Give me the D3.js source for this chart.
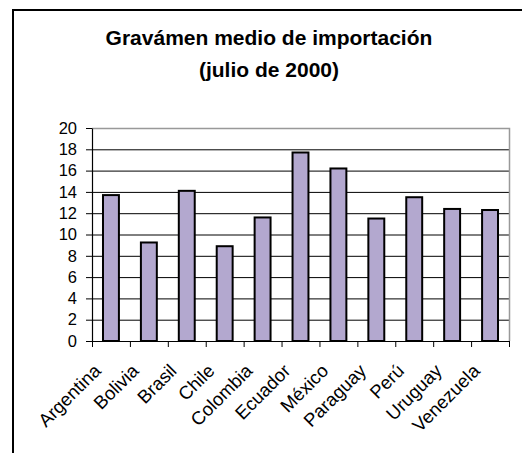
<!DOCTYPE html>
<html>
<head>
<meta charset="utf-8">
<script src="https://cdn.jsdelivr.net/npm/d3@7"></script>
<style>
  body { margin: 0; background: #fff; }
  svg { display: block; font-family: "Liberation Sans", Arial, sans-serif; }
</style>
</head>
<body>
<svg width="522" height="453"></svg>
<script>
const paises = ["Argentina", "Bolivia", "Brasil", "Chile", "Colombia", "Ecuador",
    "México", "Paraguay", "Perú", "Uruguay", "Venezuela"];
const gravamen = [13.7, 9.25, 14.1, 8.9, 11.6, 17.7, 16.2, 11.5, 13.5, 12.4, 12.3];
const yTicks = [0, 2, 4, 6, 8, 10, 12, 14, 16, 18, 20];
const titulo = ["Gravámen medio de importación", "(julio de 2000)"];

const svg = d3.select("svg");

// marco del gráfico (solo se ven el borde superior e izquierdo)
svg.append("path")
    .attr("d", "M13,460V10H530")
    .attr("fill", "none")
    .attr("stroke", "#000")
    .attr("stroke-width", 2);

svg.selectAll("text.titulo")
    .data(titulo)
    .enter()
    .append("text")
    .attr("class", "titulo")
    .attr("x", 269)
    .attr("y", (d, i) => 45 + i * 31.5)
    .attr("text-anchor", "middle")
    .attr("font-size", 21)
    .attr("font-weight", "bold")
    .text(d => d);

const pLeft = 92, pRight = 509, pTop = 128, pBottom = 341;

const xBand = d3.scaleBand().domain(paises).range([pLeft, pRight]);
const x = d3.scaleBand().domain(paises).range([pLeft, pRight])
    .paddingInner(0.58).paddingOuter(0.29);
const y = d3.scaleLinear().domain([0, 20]).range([pBottom, pTop]);

// líneas de división
svg.append("g")
    .selectAll("line")
    .data(yTicks.filter(d => d > 0 && d < 20))
    .enter()
    .append("line")
    .attr("x1", pLeft).attr("x2", pRight)
    .attr("y1", d => y(d) + 0.5).attr("y2", d => y(d) + 0.5)
    .attr("stroke", "#000")
    .attr("stroke-width", 1);

// borde gris del área de trazado
svg.append("path")
    .attr("d", `M${pLeft},${pTop + 0.5}H${pRight + 0.5}V${pBottom}`)
    .attr("fill", "none")
    .attr("stroke", "#999")
    .attr("stroke-width", 1.5);

svg.selectAll("rect.bar")
    .data(gravamen)
    .enter()
    .append("rect")
    .attr("class", "bar")
    .attr("x", (d, i) => x(paises[i]))
    .attr("width", x.bandwidth())
    .attr("y", d => y(d))
    .attr("height", d => y(0) - y(d))
    .attr("fill", "#b3a8cf")
    .attr("stroke", "#000")
    .attr("stroke-width", 2);

const yAxisG = svg.append("g")
    .attr("transform", `translate(${pLeft},0)`)
    .call(d3.axisLeft(y).tickValues(yTicks).tickSize(6).tickSizeOuter(0).tickPadding(9));
yAxisG.select(".domain").attr("stroke", "#000").attr("stroke-width", 1.2);
yAxisG.selectAll("line").attr("stroke", "#000");
yAxisG.selectAll("text")
    .attr("font-size", 16.5)
    .attr("font-family", "Liberation Sans, Arial, sans-serif")
    .attr("fill", "#000");

// eje x
const xAxisG = svg.append("g");
xAxisG.append("line")
    .attr("x1", pLeft).attr("x2", pRight + 0.5)
    .attr("y1", pBottom + 0.5).attr("y2", pBottom + 0.5)
    .attr("stroke", "#000")
    .attr("stroke-width", 1.2);
xAxisG.selectAll("line.tick")
    .data(paises.concat([null]))
    .enter()
    .append("line")
    .attr("class", "tick")
    .attr("x1", d => (d ? xBand(d) : pRight) + 0.5)
    .attr("x2", d => (d ? xBand(d) : pRight) + 0.5)
    .attr("y1", pBottom)
    .attr("y2", pBottom + 6)
    .attr("stroke", "#000");
xAxisG.selectAll("text.etiqueta")
    .data(paises)
    .enter()
    .append("text")
    .attr("class", "etiqueta")
    .attr("transform", d => `translate(${xBand(d) + xBand.bandwidth() / 2 - 9},${pBottom + 31}) rotate(-45)`)
    .attr("text-anchor", "end")
    .attr("font-size", 18.5)
    .text(d => d);
</script>
</body>
</html>
